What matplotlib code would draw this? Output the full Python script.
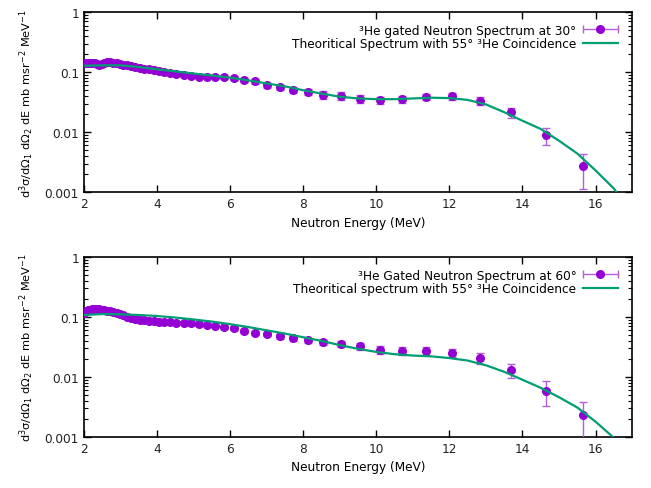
import matplotlib
matplotlib.use("Agg")
import matplotlib.pyplot as plt
from matplotlib.ticker import FixedLocator, LogLocator, FuncFormatter, NullFormatter
from matplotlib.legend_handler import HandlerErrorbar

# measured neutron energies (MeV), same binning for both angles
energy = [2.01, 2.06, 2.11, 2.17, 2.23, 2.29, 2.35, 2.42, 2.49, 2.56,
          2.64, 2.72, 2.80, 2.89, 2.98, 3.08, 3.18, 3.29, 3.40, 3.52,
          3.64, 3.77, 3.91, 4.05, 4.20, 4.36, 4.53, 4.75, 4.94, 5.14,
          5.36, 5.58, 5.83, 6.10, 6.39, 6.69, 7.00, 7.36, 7.73, 8.12,
          8.55, 9.03, 9.54, 10.09, 10.71, 11.35, 12.07, 12.83, 13.69, 14.64,
          15.66]

# 30 deg spectrum
xs30 = [0.140, 0.142, 0.141, 0.142, 0.143, 0.141, 0.138, 0.134, 0.137, 0.145,
        0.150, 0.148, 0.144, 0.140, 0.137, 0.134, 0.130, 0.126, 0.122, 0.118,
        0.115, 0.112, 0.108, 0.105, 0.101, 0.097, 0.093, 0.089, 0.086, 0.084,
        0.083, 0.084, 0.083, 0.079, 0.074, 0.070, 0.061, 0.056, 0.051, 0.047,
        0.042, 0.040, 0.036, 0.034, 0.0355, 0.039, 0.0395, 0.033, 0.0213, 0.009,
        0.00275]
err30 = [0.004, 0.004, 0.004, 0.004, 0.004, 0.004, 0.004, 0.004, 0.004, 0.004,
         0.004, 0.004, 0.004, 0.004, 0.004, 0.004, 0.004, 0.004, 0.004, 0.004,
         0.004, 0.004, 0.004, 0.004, 0.004, 0.004, 0.004, 0.004, 0.004, 0.004,
         0.004, 0.004, 0.005, 0.005, 0.005, 0.006, 0.006, 0.006, 0.006, 0.006,
         0.006, 0.006, 0.005, 0.005, 0.005, 0.005, 0.005, 0.005, 0.0043, 0.0029,
         0.0016]

# 60 deg spectrum
xs60 = [0.117, 0.125, 0.130, 0.133, 0.135, 0.136, 0.136, 0.135, 0.133, 0.131,
        0.128, 0.125, 0.121, 0.117, 0.112, 0.107, 0.102, 0.098, 0.094, 0.090,
        0.088, 0.086, 0.085, 0.084, 0.083, 0.082, 0.081, 0.080, 0.079, 0.076,
        0.0736, 0.071, 0.0673, 0.0646, 0.059, 0.0548, 0.052, 0.0477, 0.044, 0.0414,
        0.0378, 0.0355, 0.0325, 0.0285, 0.0275, 0.0275, 0.0255, 0.0207, 0.0131, 0.0059,
        0.00235]
err60 = [0.004, 0.004, 0.004, 0.004, 0.004, 0.004, 0.004, 0.004, 0.004, 0.004,
         0.004, 0.004, 0.004, 0.004, 0.004, 0.004, 0.004, 0.004, 0.004, 0.004,
         0.004, 0.004, 0.004, 0.004, 0.004, 0.004, 0.004, 0.004, 0.004, 0.004,
         0.004, 0.004, 0.004, 0.004, 0.004, 0.004, 0.004, 0.004, 0.004, 0.004,
         0.004, 0.004, 0.004, 0.004, 0.004, 0.004, 0.004, 0.0045, 0.0035, 0.0026,
         0.00155]

# theoretical curves
e_theory = [2.0, 2.5, 3.0, 3.5, 4.0, 4.5, 5.0, 5.5, 6.0, 6.5,
            7.0, 7.5, 8.0, 8.5, 9.0, 9.5, 10.0, 10.5, 11.0, 11.5,
            12.0, 12.5, 13.0, 13.5, 14.0, 14.5, 15.0, 15.5, 16.0, 16.5, 17.0]
th30 = [0.128, 0.130, 0.130, 0.122, 0.112, 0.103, 0.095, 0.088, 0.081, 0.073,
        0.065, 0.058, 0.050, 0.044, 0.039, 0.0365, 0.0355, 0.0355, 0.0365, 0.0375,
        0.037, 0.0345, 0.029, 0.0215, 0.0155, 0.0113, 0.0072, 0.0044, 0.0023, 0.00115, 0.00043]
th60 = [0.108, 0.112, 0.111, 0.108, 0.104, 0.098, 0.091, 0.084, 0.076, 0.068,
        0.060, 0.053, 0.046, 0.040, 0.034, 0.0295, 0.0262, 0.0240, 0.0228, 0.0221,
        0.0207, 0.0188, 0.0157, 0.0122, 0.0090, 0.0066, 0.0046, 0.0031, 0.0018, 0.00097, 0.0004]

PURPLE = '#9400d3'
BARS = '#b35ee0'
GREEN = '#009e73'
YLABEL = r'd$^3$σ/dΩ$_1$ dΩ$_2$ dE mb msr$^{-2}$ MeV$^{-1}$'

plt.rcParams['font.family'] = 'DejaVu Sans'
plt.rcParams['font.size'] = 8.7

fig = plt.figure(figsize=(6.51, 4.89), dpi=100)
ax_top = fig.add_axes([0.129, 0.605, 0.842, 0.368])
ax_bot = fig.add_axes([0.129, 0.1043, 0.842, 0.368])


def draw_panel(ax, ys, errs, theory, data_label, theory_label):
    ax.errorbar(energy, ys, yerr=errs, fmt='o', color=PURPLE, ms=5.5,
                ecolor=BARS, elinewidth=1.0, capsize=3, capthick=1.0,
                zorder=3)
    ax.plot(e_theory, theory, color=GREEN, lw=1.6, zorder=4)

    # dummy errorbar just for the gnuplot-style key sample
    dummy = ax.errorbar([float('nan')], [float('nan')], xerr=[1], fmt='o',
                        color=PURPLE, ms=5.5, ecolor=BARS, elinewidth=1.0,
                        capsize=3, capthick=1.0)
    line = plt.Line2D([], [], color=GREEN, lw=1.6)
    leg = ax.legend([dummy, line], [data_label, theory_label],
                    loc='upper right', bbox_to_anchor=(0.983, 0.963),
                    frameon=False, markerfirst=False,
                    handlelength=2.9, handletextpad=0.55, labelspacing=0.05,
                    borderaxespad=0, fontsize=8.7,
                    handler_map={type(dummy): HandlerErrorbar(xerr_size=1.45)})
    leg._legend_box._children[-1]._children[0].align = 'right'

    ax.set_yscale('log')
    ax.set_xlim(2, 17)
    ax.set_ylim(0.001, 1)
    ax.xaxis.set_major_locator(FixedLocator([2, 4, 6, 8, 10, 12, 14, 16]))
    ax.yaxis.set_major_locator(FixedLocator([0.001, 0.01, 0.1, 1]))
    ax.yaxis.set_major_formatter(FuncFormatter(lambda v, p: '%g' % v))
    ax.yaxis.set_minor_locator(LogLocator(base=10, subs=range(2, 10)))
    ax.yaxis.set_minor_formatter(NullFormatter())
    ax.tick_params(which='both', direction='in', top=True, right=True,
                   color='black', labelcolor='#222222')
    ax.tick_params(which='major', length=5, width=1)
    ax.tick_params(which='minor', length=3, width=0.8)
    for s in ax.spines.values():
        s.set_linewidth(1.2)
    ax.set_xlabel('Neutron Energy (MeV)', labelpad=4)
    ax.set_ylabel(YLABEL, labelpad=6, fontsize=8.2)


draw_panel(ax_top, xs30, err30, th30,
           '³He gated Neutron Spectrum at 30°',
           'Theoritical Spectrum with 55° ³He Coincidence')
draw_panel(ax_bot, xs60, err60, th60,
           '³He Gated Neutron Spectrum at 60°',
           'Theoritical spectrum with 55° ³He Coincidence')

fig.savefig('out.png', dpi=100)
